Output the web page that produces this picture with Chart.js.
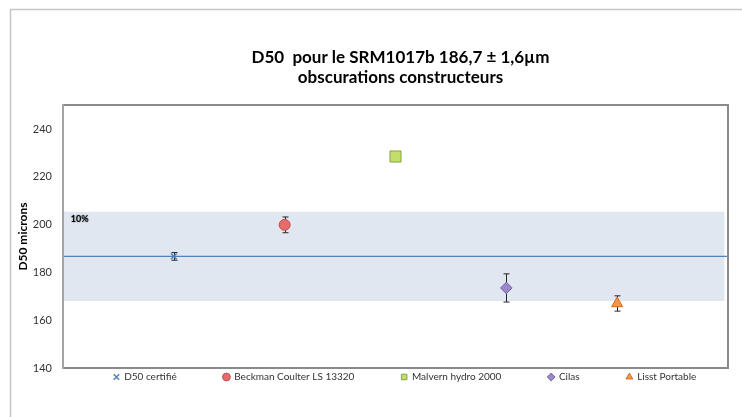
<!DOCTYPE html>
<html><head><meta charset="utf-8">
<script src="https://cdn.jsdelivr.net/npm/chart.js@4"></script>
<style>html,body{margin:0;padding:0;background:#fff}#wrap{width:742px;height:417px;position:relative}</style>
</head><body><div id="wrap"><canvas id="c" width="742" height="417"></canvas></div>
<script>
// ---- data ----
const categories = ['D50 certifié', 'Beckman Coulter LS 13320', 'Malvern hydro 2000', 'Cilas', 'Lisst Portable'];
const catPositions = [1, 2, 3, 4, 5];
const d50Values = [186.7, 199.9, 228.5, 173.5, 167.0];
const d50Errors = [1.6, 3.3, 0.8, 5.9, 3.2];
const certifiedValue = 186.7;
const bandLow = 168.0;
const bandHigh = 205.4;
const bandLabel = '10%';
const bandLabelPos = [0.15, 202.2];
const xRange = [0, 6];
const bandXEnd = 5.97;
const yTickLabels = [140, 160, 180, 200, 220, 240];
const yRange = [140, 250];
const titleLines = ['D50  pour le SRM1017b 186,7 ± 1,6µm', 'obscurations constructeurs'];
const yAxisTitle = 'D50 microns';

// ---- styles ----
const FONT = 'Lato, "Open Sans", sans-serif';
const markerStyles = [
  { pointStyle: 'crossRot', radius: 4, bg: '#4f81bd', border: '#4f81bd', bw: 1.5 },
  { pointStyle: 'circle', radius: 5.5, bg: '#e46c6c', border: '#c0504d', bw: 1 },
  { pointStyle: 'rect', radius: 7.8, bg: '#c4de6d', border: '#86a33a', bw: 1 },
  { pointStyle: 'rectRot', radius: 5.8, bg: '#9c88c9', border: '#7560a6', bw: 1 },
  { pointStyle: 'triangle', radius: 6.4, bg: '#f79646', border: '#d8691c', bw: 1 }
];
const nPts = categories.length;

const datasets = categories.map((name, i) => ({
  type: 'scatter',
  label: name,
  data: [{ x: catPositions[i], y: d50Values[i] }],
  pointStyle: markerStyles[i].pointStyle,
  pointRadius: markerStyles[i].radius,
  pointHoverRadius: markerStyles[i].radius,
  backgroundColor: markerStyles[i].bg,
  borderColor: markerStyles[i].border,
  borderWidth: markerStyles[i].bw,
  pointBorderWidth: markerStyles[i].bw
}));
datasets.push({
  type: 'line', label: 'ref', data: [{ x: xRange[0], y: certifiedValue }, { x: xRange[1], y: certifiedValue }],
  borderColor: '#4f81bd', borderWidth: 1.3, pointRadius: 0, fill: false
});
datasets.push({
  type: 'line', label: 'bandLow', data: [{ x: xRange[0], y: bandLow }, { x: bandXEnd, y: bandLow }],
  borderWidth: 0, borderColor: 'rgba(0,0,0,0)', pointRadius: 0, fill: false
});
datasets.push({
  type: 'line', label: 'bandHigh', data: [{ x: xRange[0], y: bandHigh }, { x: bandXEnd, y: bandHigh }],
  borderWidth: 0, borderColor: 'rgba(0,0,0,0)', pointRadius: 0, fill: '-1', backgroundColor: '#e1e7f0'
});

const framePlugin = {
  id: 'frame',
  beforeDraw(chart) {
    const ctx = chart.ctx;
    ctx.save();
    ctx.fillStyle = '#fff';
    ctx.fillRect(0, 0, chart.width, chart.height);
    ctx.strokeStyle = '#c6c6c6';
    ctx.lineWidth = 1.5;
    ctx.beginPath();
    ctx.moveTo(10.5, chart.height);
    ctx.lineTo(10.5, 9.5);
    ctx.lineTo(chart.width, 9.5);
    ctx.stroke();
    ctx.restore();
  },
  afterLayout(chart) {
    const lg = chart.legend;
    if (lg) {
      const pad = lg.options.labels.padding;
      const fs = lg.options.labels.font.size;
      const dy = 377 - (lg.top + pad + fs / 2);
      const dx = 405 - (lg.left + lg.right) / 2;
      lg.top += dy; lg.left += dx; lg.right += dx; lg.bottom = chart.height;
    }
    const tt = chart.titleBlock;
    if (tt) { tt.left += 5; tt.right += 5; }
  },
  beforeDatasetDraw(chart, args) {
    if (args.index !== nPts - 1) return;
    const ctx = chart.ctx, xs = chart.scales.x, ys = chart.scales.y;
    ctx.save();
    ctx.strokeStyle = '#262626';
    ctx.lineWidth = 1;
    for (let i = 0; i < nPts; i++) {
      if (!d50Errors[i]) continue;
      const x = Math.round(xs.getPixelForValue(catPositions[i])) + 0.5;
      const y1 = ys.getPixelForValue(d50Values[i] + d50Errors[i]);
      const y2 = ys.getPixelForValue(d50Values[i] - d50Errors[i]);
      ctx.beginPath();
      ctx.moveTo(x, y1); ctx.lineTo(x, y2);
      ctx.moveTo(x - 3, y1); ctx.lineTo(x + 3, y1);
      ctx.moveTo(x - 3, y2); ctx.lineTo(x + 3, y2);
      ctx.stroke();
    }
    ctx.restore();
  },
  afterDatasetsDraw(chart) {
    const ctx = chart.ctx, xs = chart.scales.x, ys = chart.scales.y, a = chart.chartArea;
    ctx.save();
    ctx.font = 'bold 9px ' + FONT;
    ctx.fillStyle = '#000';
    ctx.textAlign = 'center';
    ctx.textBaseline = 'middle';
    ctx.shadowColor = 'rgba(0,0,0,0.6)';
    ctx.shadowBlur = 1.5;
    ctx.fillText(bandLabel, xs.getPixelForValue(bandLabelPos[0]), ys.getPixelForValue(bandLabelPos[1]));
    ctx.restore();
    ctx.save();
    ctx.lineWidth = 2;
    ctx.strokeStyle = '#8a8a8a';
    ctx.beginPath();
    ctx.moveTo(a.left, a.top); ctx.lineTo(a.right, a.top); ctx.lineTo(a.right, a.bottom); ctx.lineTo(a.left, a.bottom);
    ctx.stroke();
    ctx.strokeStyle = '#a4a4a4';
    ctx.beginPath();
    ctx.moveTo(a.left, a.top - 1); ctx.lineTo(a.left, a.bottom + 1);
    ctx.stroke();
    ctx.restore();
  }
};

new Chart(document.getElementById('c'), {
  data: { datasets },
  options: {
    responsive: false,
    animation: false,
    events: [],
    layout: { padding: { top: 0, left: 0, right: 14, bottom: 0 } },
    scales: {
      x: { type: 'linear', min: xRange[0], max: xRange[1], display: false },
      y: {
        type: 'linear', min: yRange[0], max: yRange[1],
        afterBuildTicks: s => { s.ticks = yTickLabels.map(v => ({ value: v })); },
        afterFit: s => { s.width = 63; },
        grid: { display: false, drawTicks: false },
        border: { display: false },
        ticks: { padding: 11, color: '#333', font: { size: 11, family: FONT } },
        title: { display: true, text: yAxisTitle, color: '#000', font: { size: 12, weight: 'bold', family: FONT }, padding: { top: 16, bottom: 0 } }
      }
    },
    plugins: {
      title: {
        display: true, text: titleLines, fullSize: false, color: '#000',
        font: { size: 17, weight: 'bold', family: FONT, lineHeight: 1.18 },
        padding: { top: 47, bottom: 18 }
      },
      legend: {
        display: true, position: 'bottom', maxHeight: 49,
        labels: {
          usePointStyle: true, boxWidth: 5.5, boxHeight: 5.5, padding: 47,
          color: '#333', font: { size: 10, family: FONT },
          filter: item => item.datasetIndex < nPts
        }
      },
      tooltip: { enabled: false }
    }
  },
  plugins: [framePlugin]
});
</script></body></html>
